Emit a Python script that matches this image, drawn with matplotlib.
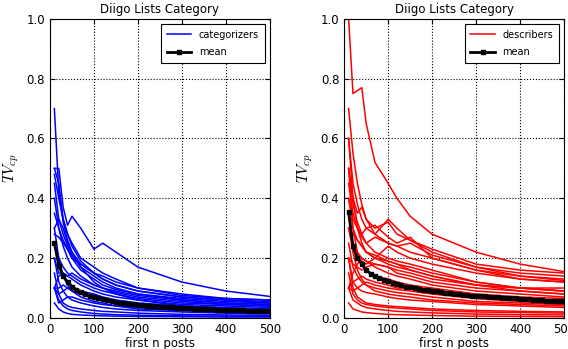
import numpy as np
import matplotlib
matplotlib.use('Agg')
import matplotlib.pyplot as plt

# x positions for the individual user curves
posts = [10, 20, 30, 40, 50, 70, 100, 120, 150, 200, 300, 400, 500]
# x positions for the mean curve
mean_posts = list(range(10, 510, 10))

categorizers = [
    [0.70, 0.42, 0.32, 0.26, 0.22, 0.17, 0.12, 0.10, 0.08, 0.06, 0.04, 0.03, 0.025],
    [0.50, 0.50, 0.37, 0.31, 0.34, 0.30, 0.23, 0.25, 0.22, 0.17, 0.12, 0.09, 0.072],
    [0.50, 0.45, 0.33, 0.28, 0.25, 0.20, 0.17, 0.15, 0.13, 0.10, 0.08, 0.065, 0.06],
    [0.30, 0.33, 0.30, 0.25, 0.22, 0.18, 0.15, 0.13, 0.11, 0.09, 0.07, 0.06, 0.05],
    [0.45, 0.33, 0.28, 0.24, 0.21, 0.17, 0.14, 0.12, 0.10, 0.08, 0.06, 0.05, 0.045],
    [0.28, 0.27, 0.25, 0.23, 0.20, 0.16, 0.13, 0.11, 0.095, 0.08, 0.065, 0.055, 0.05],
    [0.40, 0.30, 0.24, 0.20, 0.17, 0.14, 0.11, 0.10, 0.085, 0.07, 0.055, 0.045, 0.04],
    [0.25, 0.20, 0.17, 0.15, 0.14, 0.12, 0.10, 0.09, 0.08, 0.065, 0.05, 0.045, 0.04],
    [0.20, 0.15, 0.15, 0.14, 0.15, 0.13, 0.11, 0.10, 0.09, 0.075, 0.06, 0.05, 0.045],
    [0.10, 0.14, 0.15, 0.14, 0.13, 0.11, 0.09, 0.08, 0.07, 0.06, 0.045, 0.04, 0.035],
    [0.10, 0.10, 0.11, 0.10, 0.10, 0.09, 0.08, 0.07, 0.06, 0.05, 0.04, 0.035, 0.03],
    [0.30, 0.20, 0.14, 0.11, 0.09, 0.07, 0.055, 0.05, 0.04, 0.035, 0.025, 0.02, 0.018],
    [0.20, 0.12, 0.09, 0.07, 0.06, 0.05, 0.04, 0.035, 0.03, 0.025, 0.02, 0.016, 0.014],
    [0.10, 0.05, 0.06, 0.07, 0.07, 0.06, 0.05, 0.045, 0.04, 0.03, 0.025, 0.02, 0.018],
    [0.10, 0.06, 0.04, 0.03, 0.025, 0.02, 0.015, 0.013, 0.011, 0.009, 0.007, 0.006, 0.005],
    [0.15, 0.08, 0.05, 0.04, 0.035, 0.03, 0.025, 0.022, 0.02, 0.016, 0.012, 0.01, 0.009],
    [0.05, 0.03, 0.02, 0.015, 0.012, 0.01, 0.008, 0.007, 0.006, 0.005, 0.004, 0.003, 0.003],
    [0.35, 0.30, 0.26, 0.23, 0.20, 0.18, 0.15, 0.14, 0.12, 0.10, 0.075, 0.065, 0.06],
    [0.10, 0.08, 0.09, 0.10, 0.09, 0.08, 0.065, 0.06, 0.05, 0.04, 0.03, 0.025, 0.022],
    [0.48, 0.40, 0.33, 0.28, 0.24, 0.19, 0.15, 0.13, 0.11, 0.09, 0.07, 0.06, 0.055],
]

describers = [
    [1.00, 0.75, 0.76, 0.77, 0.65, 0.52, 0.45, 0.40, 0.34, 0.28, 0.22, 0.18, 0.155],
    [0.70, 0.55, 0.45, 0.38, 0.33, 0.28, 0.25, 0.24, 0.22, 0.20, 0.16, 0.14, 0.125],
    [0.60, 0.45, 0.38, 0.33, 0.30, 0.28, 0.33, 0.30, 0.26, 0.22, 0.17, 0.15, 0.14],
    [0.50, 0.40, 0.35, 0.37, 0.33, 0.30, 0.32, 0.28, 0.26, 0.23, 0.18, 0.16, 0.15],
    [0.45, 0.35, 0.30, 0.28, 0.30, 0.31, 0.27, 0.25, 0.27, 0.20, 0.16, 0.13, 0.12],
    [0.40, 0.33, 0.30, 0.27, 0.25, 0.27, 0.25, 0.24, 0.25, 0.21, 0.17, 0.14, 0.13],
    [0.50, 0.38, 0.32, 0.28, 0.25, 0.22, 0.20, 0.19, 0.18, 0.16, 0.12, 0.10, 0.09],
    [0.30, 0.28, 0.26, 0.24, 0.22, 0.21, 0.19, 0.18, 0.17, 0.15, 0.12, 0.10, 0.09],
    [0.30, 0.22, 0.20, 0.19, 0.18, 0.20, 0.19, 0.18, 0.16, 0.14, 0.11, 0.10, 0.10],
    [0.20, 0.18, 0.17, 0.16, 0.17, 0.18, 0.17, 0.15, 0.14, 0.12, 0.10, 0.09, 0.08],
    [0.10, 0.15, 0.18, 0.20, 0.19, 0.17, 0.15, 0.14, 0.13, 0.11, 0.09, 0.08, 0.07],
    [0.10, 0.12, 0.13, 0.14, 0.13, 0.12, 0.11, 0.10, 0.10, 0.09, 0.07, 0.06, 0.055],
    [0.25, 0.17, 0.14, 0.12, 0.11, 0.10, 0.09, 0.085, 0.08, 0.07, 0.055, 0.05, 0.045],
    [0.20, 0.12, 0.10, 0.09, 0.085, 0.08, 0.07, 0.065, 0.06, 0.055, 0.045, 0.04, 0.035],
    [0.15, 0.08, 0.06, 0.05, 0.045, 0.04, 0.035, 0.033, 0.03, 0.025, 0.02, 0.018, 0.016],
    [0.10, 0.06, 0.05, 0.04, 0.035, 0.03, 0.025, 0.022, 0.02, 0.017, 0.013, 0.011, 0.01],
    [0.35, 0.22, 0.16, 0.13, 0.11, 0.09, 0.08, 0.075, 0.07, 0.06, 0.05, 0.045, 0.04],
    [0.10, 0.09, 0.10, 0.11, 0.12, 0.11, 0.10, 0.095, 0.09, 0.08, 0.065, 0.055, 0.05],
    [0.30, 0.25, 0.22, 0.20, 0.19, 0.18, 0.17, 0.16, 0.15, 0.13, 0.11, 0.10, 0.09],
    [0.60, 0.40, 0.30, 0.25, 0.22, 0.20, 0.18, 0.17, 0.16, 0.14, 0.11, 0.09, 0.08],
    [0.05, 0.03, 0.025, 0.02, 0.018, 0.015, 0.012, 0.011, 0.01, 0.008, 0.006, 0.005, 0.004],
    [0.20, 0.10, 0.07, 0.06, 0.05, 0.045, 0.04, 0.038, 0.035, 0.03, 0.025, 0.022, 0.02],
    [0.40, 0.30, 0.26, 0.24, 0.22, 0.20, 0.24, 0.22, 0.20, 0.18, 0.15, 0.13, 0.12],
    [0.50, 0.30, 0.22, 0.18, 0.16, 0.14, 0.13, 0.12, 0.11, 0.10, 0.08, 0.07, 0.065],
]

cat_mean = [0.25, 0.175, 0.14, 0.12, 0.105, 0.095, 0.088, 0.08, 0.075, 0.07,
            0.066, 0.062, 0.059, 0.056, 0.053, 0.051, 0.049, 0.047, 0.045, 0.044,
            0.043, 0.041, 0.040, 0.039, 0.038, 0.037, 0.036, 0.035, 0.034, 0.033,
            0.0325, 0.032, 0.031, 0.0305, 0.030, 0.029, 0.0285, 0.028, 0.0275, 0.027,
            0.0265, 0.026, 0.0255, 0.025, 0.0245, 0.024, 0.0235, 0.023, 0.0225, 0.022]

desc_mean = [0.355, 0.24, 0.20, 0.18, 0.16, 0.148, 0.14, 0.133, 0.128, 0.123,
             0.118, 0.113, 0.109, 0.105, 0.102, 0.099, 0.097, 0.095, 0.093, 0.091,
             0.089, 0.087, 0.085, 0.083, 0.081, 0.080, 0.078, 0.077, 0.075, 0.074,
             0.073, 0.072, 0.071, 0.070, 0.069, 0.068, 0.067, 0.066, 0.065, 0.064,
             0.063, 0.062, 0.061, 0.060, 0.059, 0.058, 0.057, 0.057, 0.056, 0.055]

plt.rcParams['font.family'] = 'DejaVu Sans'
plt.rcParams['font.size'] = 8
plt.rcParams['mathtext.fontset'] = 'cm'

fig = plt.figure(figsize=(5.68, 3.49), dpi=100)
ax1 = fig.add_axes([0.088, 0.089, 0.387, 0.857])
ax2 = fig.add_axes([0.606, 0.089, 0.387, 0.857])


def draw(ax, curves, mean, color, name):
    for i, c in enumerate(curves):
        ax.plot(posts, c, color=color, linewidth=1.1,
                label=name if i == 0 else None)
    ax.plot(mean_posts, mean, color='black', linewidth=2, marker='s',
            markersize=3.5, label='mean')
    ax.set_xlim(0, 500)
    ax.set_ylim(0, 1.0)
    ax.set_xticks([0, 100, 200, 300, 400, 500])
    ax.set_yticks([0, 0.2, 0.4, 0.6, 0.8, 1.0])
    ax.set_yticklabels(['0.0', '0.2', '0.4', '0.6', '0.8', '1.0'])
    ax.grid(True, color='black', linestyle=':', linewidth=0.8)
    ax.tick_params(direction='in', top=True, right=True, labelsize=8.5)
    ax.set_title('Diigo Lists Category', fontsize=8.5, pad=4)
    ax.set_xlabel('first n posts', fontsize=8.5, labelpad=1)
    ax.set_ylabel('$TV_{cp}$', fontsize=11)
    leg = ax.legend(loc='upper right', fontsize=7, fancybox=False,
                    framealpha=1, edgecolor='black', handlelength=2.5,
                    borderpad=0.6, labelspacing=0.8)
    leg.get_frame().set_linewidth(0.8)


draw(ax1, categorizers, cat_mean, 'blue', 'categorizers')
draw(ax2, describers, desc_mean, 'red', 'describers')

plt.savefig('out.png', dpi=100)
